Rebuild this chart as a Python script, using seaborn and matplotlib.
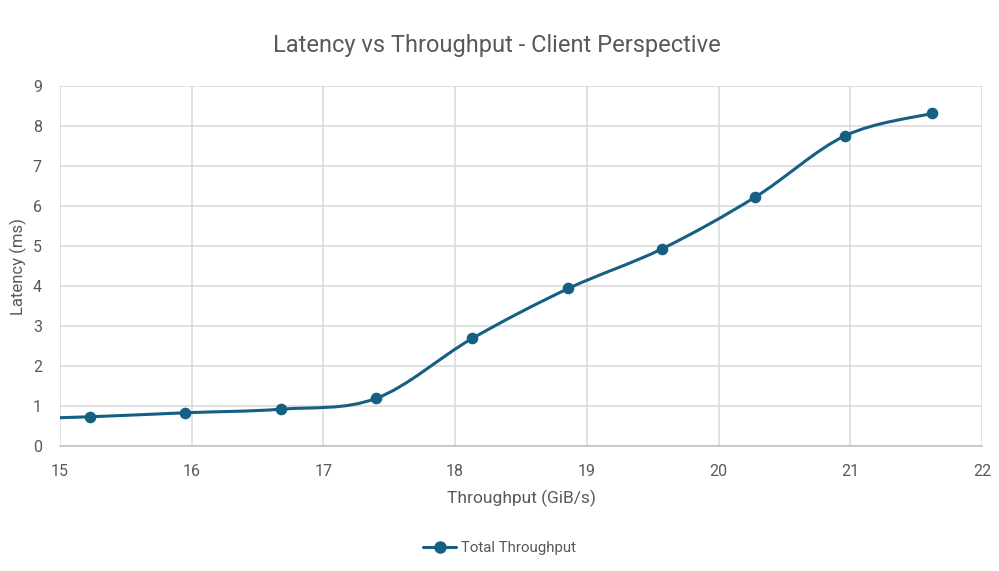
import matplotlib
matplotlib.use("Agg")
import matplotlib.pyplot as plt
import numpy as np
import seaborn as sns
from matplotlib.lines import Line2D
from matplotlib.path import Path
from matplotlib.patches import PathPatch

# Data (first point sits just left of the visible axis)
throughput = [14.50, 15.23, 15.95, 16.68, 17.40, 18.13, 18.86, 19.57, 20.28, 20.96, 21.62]
latency = [0.66, 0.73, 0.83, 0.92, 1.19, 2.69, 3.94, 4.93, 6.23, 7.76, 8.32]
series_name = "Total Throughput"

line_color = "#155F82"
text_color = "#595959"
grid_color = "#D9D9D9"

sns.set_theme(style="white")
plt.rcParams["font.family"] = ["Roboto", "DejaVu Sans"]

fig = plt.figure(figsize=(9.99, 5.71), dpi=100)
ax = fig.add_axes([0.060, 0.219, 0.923, 0.630])

# Excel-like smoothed line: cubic Bezier segments (Catmull-Rom control points)
x = np.array(throughput)
y = np.array(latency)
verts = [(x[0], y[0])]
codes = [Path.MOVETO]
n = len(x)
for i in range(n - 1):
    p0 = np.array([x[max(i - 1, 0)], y[max(i - 1, 0)]])
    p1 = np.array([x[i], y[i]])
    p2 = np.array([x[i + 1], y[i + 1]])
    p3 = np.array([x[min(i + 2, n - 1)], y[min(i + 2, n - 1)]])
    c1 = p1 + (p2 - p0) / 6.0
    c2 = p2 - (p3 - p1) / 6.0
    verts += [tuple(c1), tuple(c2), tuple(p2)]
    codes += [Path.CURVE4] * 3
patch = PathPatch(Path(verts, codes), facecolor="none", edgecolor=line_color,
                  lw=2.2, zorder=3, capstyle="round", joinstyle="round")
ax.add_patch(patch)

sns.scatterplot(x=throughput[1:], y=latency[1:], ax=ax, color=line_color,
                s=70, edgecolor=line_color, linewidth=0, zorder=4, legend=False)

ax.set_xlim(15, 22)
ax.set_ylim(0, 9)
ax.set_xticks(range(15, 23))
ax.set_yticks(range(0, 10))
ax.grid(True, color=grid_color, lw=1.1)
ax.set_axisbelow(True)
for side in ["top", "right", "left"]:
    ax.spines[side].set_visible(False)
ax.spines["bottom"].set_color("#BFBFBF")
ax.spines["bottom"].set_linewidth(1.1)
ax.tick_params(axis="both", length=0, labelsize=11.5, colors=text_color)
ax.tick_params(axis="x", pad=13)
ax.tick_params(axis="y", pad=13)

fig.suptitle("Latency vs Throughput - Client Perspective", fontsize=17,
             color=text_color, x=0.4975, y=0.92, va="center")
ax.set_xlabel("Throughput (GiB/s)", fontsize=12.5, color=text_color, labelpad=8)
ax.set_ylabel("Latency (ms)", fontsize=12, color=text_color, labelpad=4)

handle = Line2D([], [], color=line_color, lw=2.2, marker="o", markersize=8)
fig.legend([handle], [series_name], loc="center", bbox_to_anchor=(0.5, 0.04),
           frameon=False, fontsize=10.8, labelcolor=text_color, handlelength=2.2,
           handletextpad=0.3)

fig.savefig("out.png", dpi=100)
